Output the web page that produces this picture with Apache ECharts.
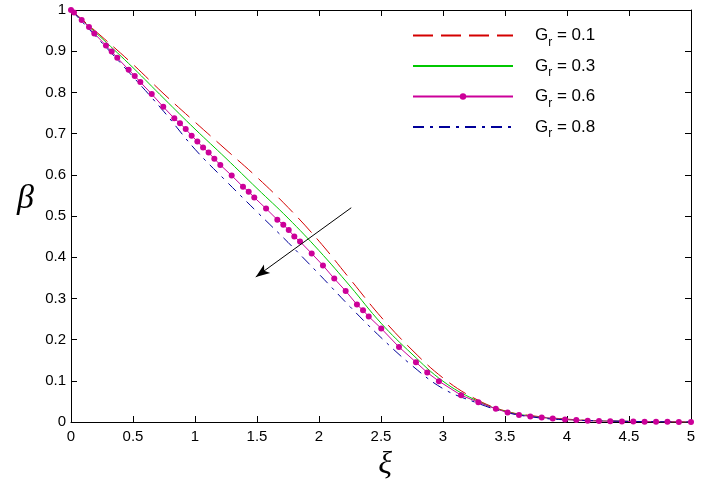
<!DOCTYPE html>
<html><head><meta charset="utf-8">
<script src="https://cdn.jsdelivr.net/npm/echarts@6/dist/echarts.min.js"></script>
<style>html,body{margin:0;padding:0;background:#fff}#c{width:704px;height:486px}</style>
</head><body><div id="c"></div>
<script>
// grid of xi values used for the three plain curves
const xiGrid = [0,0.25,0.5,0.75,1,1.25,1.5,1.75,2,2.25,2.5,2.75,3,3.25,3.5,3.75,4,4.25,4.5,4.75,5];
const betaGr01 = [1,0.935,0.868,0.796,0.728,0.661,0.594,0.521,0.439,0.347,0.255,0.175,0.107,0.058,0.027,0.014,0.007,0.003,0.0015,0.0006,0];
const betaGr03 = [1,0.931,0.860,0.785,0.711,0.640,0.567,0.495,0.416,0.330,0.240,0.165,0.099,0.055,0.026,0.013,0.006,0.003,0.0015,0.0006,0];
const betaGr08 = [1,0.920,0.838,0.753,0.662,0.585,0.510,0.436,0.359,0.280,0.205,0.137,0.081,0.049,0.024,0.011,0.005,0.003,0.0015,0.0006,0];
// Gr = 0.6 curve: solver mesh points (markers)
const xiGr06 = [0,0.024,0.086,0.145,0.188,0.282,0.328,0.373,0.465,0.514,0.559,0.651,0.744,0.833,0.879,0.925,0.973,1.019,1.065,1.110,1.156,1.204,1.296,1.387,1.433,1.478,1.573,1.664,1.712,1.756,1.801,1.847,1.941,2.032,2.123,2.215,2.306,2.355,2.401,2.502,2.645,2.782,2.873,2.967,3.146,3.285,3.426,3.521,3.613,3.704,3.796,3.885,3.984,4.075,4.167,4.258,4.349,4.443,4.535,4.626,4.718,4.810,4.902,5.0];
const betaGr06 = [1,0.994,0.976,0.959,0.943,0.914,0.899,0.884,0.855,0.840,0.825,0.796,0.765,0.737,0.725,0.711,0.695,0.681,0.666,0.654,0.639,0.624,0.598,0.571,0.559,0.545,0.518,0.491,0.479,0.466,0.450,0.438,0.409,0.380,0.348,0.318,0.285,0.271,0.256,0.227,0.182,0.145,0.120,0.099,0.065,0.048,0.032,0.023,0.017,0.0136,0.011,0.0087,0.0058,0.0048,0.0032,0.0025,0.002,0.0015,0.0011,0.0008,0.0006,0.0004,0.0002,0];
const seriesNames = ['Gr = 0.1','Gr = 0.3','Gr = 0.6','Gr = 0.8'];
const arrowFrom = [2.26,0.52];
const arrowTo = [1.49,0.352];

const pairs = (xs, ys) => xs.map((x,i)=>[x, ys[i]]);
const font = 'Liberation Sans, Arial, Helvetica, sans-serif';
const greek = 'Liberation Serif, DejaVu Serif, serif';
const chart = echarts.init(document.getElementById('c'), null, {renderer:'canvas'});
const axisCommon = {
  type:'value', min:0, splitLine:{show:false},
  axisLine:{show:true, onZero:false, lineStyle:{color:'#000', width:1}},
  axisTick:{show:true, inside:true, length:6, lineStyle:{color:'#000'}},
};
const hidden = {color:'rgba(0,0,0,0)', borderColor:'rgba(0,0,0,0)', borderWidth:0};
chart.setOption({
  animation:false,
  backgroundColor:'#fff',
  grid:{left:71, right:13, top:10, bottom:64},
  legend:{
    data:[
      {name:seriesNames[0], itemStyle:hidden},
      {name:seriesNames[1], itemStyle:hidden},
      {name:seriesNames[2]},
      {name:seriesNames[3], itemStyle:hidden}
    ],
    orient:'vertical', left:407, top:22,
    itemWidth:100, itemHeight:8, itemGap:9,
    formatter:(n)=>'{g|G}{r|r}{t|' + n.slice(2) + '}',
    textStyle:{
      rich:{
        g:{fontFamily:font, fontSize:17, color:'#000', lineHeight:26, verticalAlign:'middle', padding:[0,0,0,17]},
        r:{fontFamily:font, fontSize:12, color:'#000', lineHeight:26, verticalAlign:'bottom'},
        t:{fontFamily:font, fontSize:17, color:'#000', lineHeight:26, verticalAlign:'middle'}
      }
    }
  },
  xAxis:[
    Object.assign({}, axisCommon, {position:'bottom', max:5, interval:0.5,
      axisLabel:{color:'#000', fontFamily:font, fontSize:15, margin:7},
      name:'ξ', nameLocation:'middle', nameGap:27,
      nameTextStyle:{fontFamily:greek, fontStyle:'italic', fontSize:32, color:'#000', padding:[0,0,0,8]}}),
    Object.assign({}, axisCommon, {position:'top', max:5, interval:0.5, axisLabel:{show:false}})
  ],
  yAxis:[
    Object.assign({}, axisCommon, {position:'left', max:1, interval:0.1,
      axisLabel:{color:'#000', fontFamily:font, fontSize:15, margin:5},
      name:'β\n ', nameLocation:'middle', nameRotate:0, nameGap:37,
      nameTextStyle:{fontFamily:greek, fontStyle:'italic', fontSize:34, lineHeight:34, color:'#000'}}),
    Object.assign({}, axisCommon, {position:'right', max:1, interval:0.1, axisLabel:{show:false}})
  ],
  series:[
    {name:seriesNames[0], type:'line', data:pairs(xiGrid, betaGr01), showSymbol:false, symbol:'none',
     smooth:0.4, color:'#d40000', lineStyle:{color:'#d40000', width:1, type:[20,8]},
     markLine:{silent:true, symbol:['none','arrow'], symbolSize:[8,14], label:{show:false},
       lineStyle:{color:'#000', width:1, type:'solid'},
       data:[[{coord:arrowFrom},{coord:arrowTo}]]}},
    {name:seriesNames[1], type:'line', data:pairs(xiGrid, betaGr03), showSymbol:false, symbol:'none',
     smooth:0.4, color:'#00c800', lineStyle:{color:'#00c800', width:1}},
    {name:seriesNames[2], type:'line', data:pairs(xiGr06, betaGr06), symbol:'circle', symbolSize:6,
     color:'#cc0099', itemStyle:{color:'#cc0099'}, lineStyle:{color:'#cc0099', width:1}},
    {name:seriesNames[3], type:'line', data:pairs(xiGrid, betaGr08), showSymbol:false, symbol:'none',
     smooth:0.4, color:'#000099', lineStyle:{color:'#000099', width:1, type:[11,6,3,6]}}
  ]
});
</script></body></html>
